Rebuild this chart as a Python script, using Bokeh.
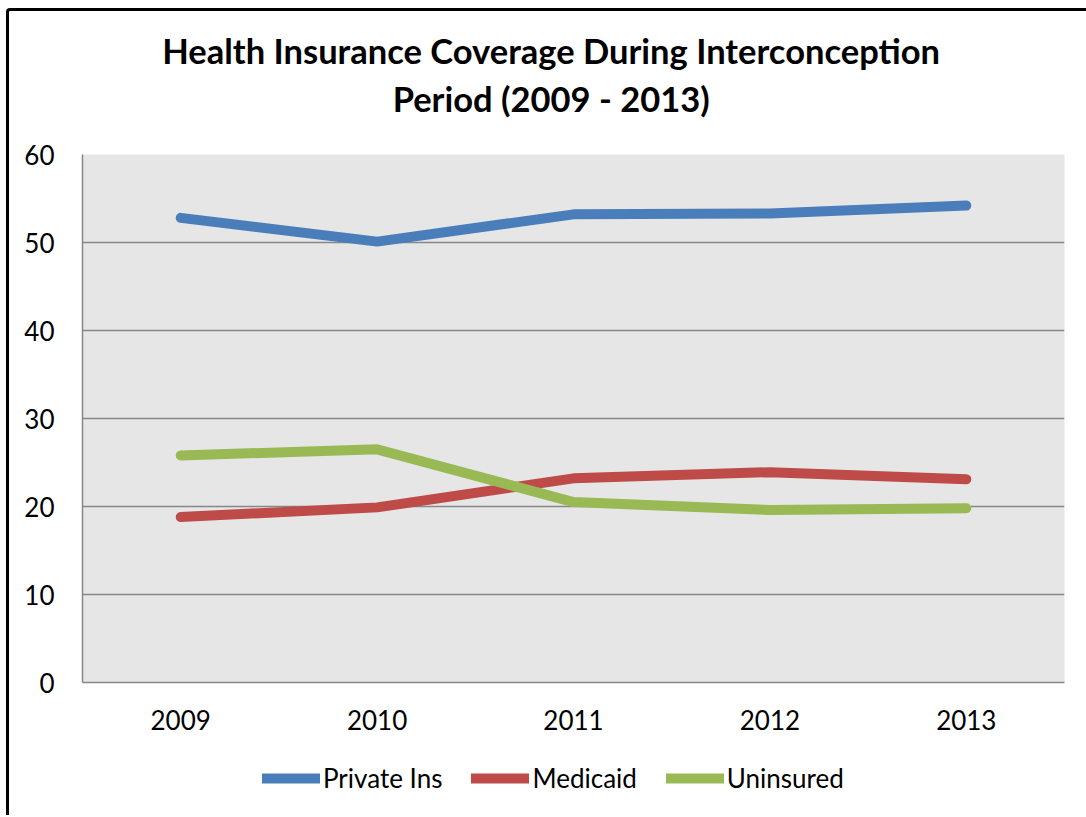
from bokeh.plotting import figure
from bokeh.layouts import column
from bokeh.models import (Legend, LegendItem, SingleIntervalTicker, Label, Plot, Range1d,
                          ColumnDataSource, Line)
from bokeh.embed import file_html
from bokeh.resources import INLINE

years = ["2009", "2010", "2011", "2012", "2013"]
private_ins = [52.8, 50.1, 53.2, 53.3, 54.2]
medicaid = [18.8, 19.9, 23.2, 23.9, 23.1]
uninsured = [25.8, 26.5, 20.5, 19.6, 19.8]
series_names = ["Private Ins", "Medicaid", "Uninsured"]
series_colors = ["#4A7EBB", "#BE4B48", "#98B954"]
title_lines = ["Health Insurance Coverage During Interconception", "Period (2009 - 2013)"]

FONT = "Lato"
W = 1077
TH, MH, LH = 120, 614, 70


def blank(h):
    return Plot(width=W, height=h, x_range=Range1d(0, W), y_range=Range1d(0, h),
                title=None, output_backend="svg", toolbar_location=None,
                min_border=0, min_border_left=0, min_border_right=0,
                min_border_top=0, min_border_bottom=0,
                outline_line_color=None, background_fill_color="white",
                border_fill_color="white")


# ---- title strip ----
tf = blank(TH)
for txt, yb in zip(title_lines, [81, 33]):
    tf.add_layout(Label(x=514, y=yb, text=txt, text_align="center", text_baseline="alphabetic",
                        text_font=FONT, text_font_style="bold", text_font_size="34.5px",
                        text_color="black"))

# ---- main chart ----
p = figure(width=W, height=MH, x_range=years, y_range=(0, 60),
           output_backend="svg", toolbar_location=None,
           min_border_left=73, min_border_right=22, min_border_top=23, min_border_bottom=63)
p.background_fill_color = "#E6E6E6"
p.border_fill_color = "white"
p.outline_line_color = None

p.xgrid.grid_line_color = None
p.ygrid.grid_line_color = "#878787"
p.ygrid.grid_line_width = 1.5
p.yaxis.ticker = SingleIntervalTicker(interval=10)

for ax in (p.xaxis[0], p.yaxis[0]):
    ax.axis_line_color = "#878787"
    ax.axis_line_width = 1.5
    ax.major_tick_line_color = None
    ax.minor_tick_line_color = None
    ax.major_label_text_font = FONT
    ax.major_label_text_font_size = "26px"
    ax.major_label_text_color = "black"
p.yaxis.major_label_standoff = 22
p.xaxis.major_label_standoff = 21

for vals, col in zip([private_ins, medicaid, uninsured], series_colors):
    p.line(x=years, y=vals, line_color=col, line_width=10,
           line_cap="round", line_join="round")

# ---- legend strip ----
lf = blank(LH)
items = []
for n, col in zip(series_names, series_colors):
    src = ColumnDataSource(data=dict(x=[float("nan")], y=[float("nan")]))
    r = lf.add_glyph(src, Line(x="x", y="y", line_color=col, line_width=10, line_cap="round"))
    items.append(LegendItem(label=n, renderers=[r]))
legend = Legend(items=items, orientation="horizontal", location=(180, 21),
                glyph_width=58, glyph_height=30, label_height=30, label_standoff=3, spacing=29,
                padding=0, margin=0, border_line_color=None, background_fill_alpha=0,
                label_text_font=FONT, label_text_font_size="26px", label_text_color="black")
lf.add_layout(legend, "center")

layout = column(tf, p, lf, spacing=0)
layout.styles = {"margin-left": "6px", "margin-top": "8px",
                 "border-left": "3px solid black", "border-top": "3px solid black",
                 "border-top-left-radius": "4px"}

open("out.html", "w").write(file_html(layout, INLINE))
